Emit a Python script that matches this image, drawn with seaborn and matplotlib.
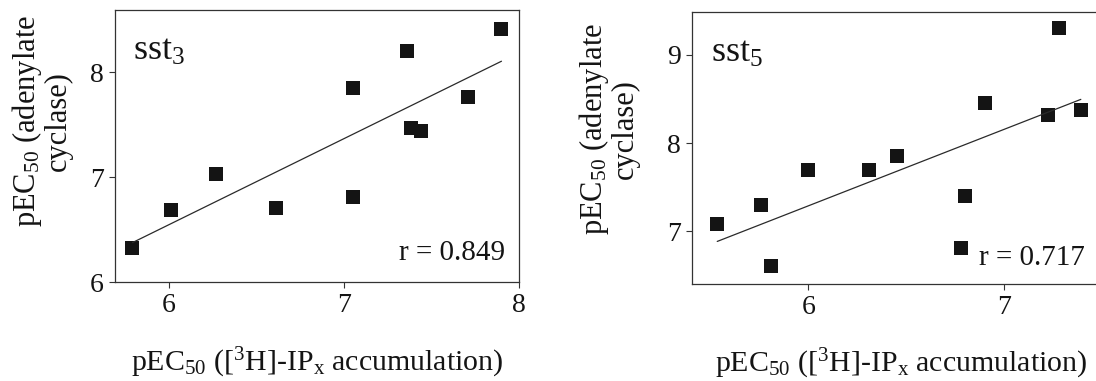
import matplotlib
matplotlib.use("Agg")
import matplotlib.pyplot as plt
import seaborn as sns
import pandas as pd

# pEC50 values: [3H]-IPx accumulation (x) vs adenylate cyclase (y)
sst3_ip = [5.79, 6.01, 6.27, 6.61, 7.05, 7.05, 7.36, 7.38, 7.44, 7.71, 7.90]
sst3_ac = [6.32, 6.69, 7.03, 6.71, 6.81, 7.85, 8.20, 7.47, 7.44, 7.77, 8.41]

sst5_ip = [5.535, 5.76, 5.81, 6.00, 6.31, 6.45, 6.80, 6.78, 6.90, 7.22, 7.28, 7.39]
sst5_ac = [7.08, 7.30, 6.61, 7.69, 7.69, 7.85, 7.40, 6.81, 8.45, 8.32, 9.31, 8.37]

receptor_labels = ["sst$_3$", "sst$_5$"]
r_values = [0.849, 0.717]
x_ticks = [[6, 7, 8], [6, 7]]
y_ticks = [[6, 7, 8], [7, 8, 9]]

sns.set_style("ticks")
plt.rcParams["font.family"] = ["Liberation Serif", "DejaVu Serif"]
plt.rcParams["mathtext.fontset"] = "custom"
plt.rcParams["mathtext.rm"] = "Liberation Serif"
plt.rcParams["mathtext.it"] = "Liberation Serif:italic"
plt.rcParams["mathtext.bf"] = "Liberation Serif:bold"

ink = "#141414"
fig = plt.figure(figsize=(10.96, 3.81), dpi=100)

# axes rectangles in figure fractions
ax_l = fig.add_axes([0.1049, 0.2598, 0.3686, 0.7152])
ax_r = fig.add_axes([0.6317, 0.2559, 0.3811, 0.7134])

panels = [
    (ax_l, sst3_ip, sst3_ac, (5.69, 8.0), (6.0, 8.6)),
    (ax_r, sst5_ip, sst5_ac, (5.408, 7.539), (6.408, 9.49)),
]

xlabel = "pEC$_{50}$ ([$^{3}$H]-IP$_{\\mathrm{x}}$ accumulation)"
ylabel = "pEC$_{50}$ (adenylate\ncyclase)"

for i, (ax, xs, ys, xl, yl) in enumerate(panels):
    df = pd.DataFrame({"ip": xs, "ac": ys})
    sns.regplot(
        data=df, x="ip", y="ac", ax=ax, ci=None, marker="s",
        scatter_kws=dict(s=105, color=ink, linewidths=0, alpha=1),
        line_kws=dict(color="#2a2a2a", lw=0.9),
    )
    ax.set_xlim(*xl)
    ax.set_ylim(*yl)
    ax.set_xticks(x_ticks[i])
    ax.set_yticks(y_ticks[i])
    for sp in ax.spines.values():
        sp.set_visible(True)
        sp.set_color("#333333")
        sp.set_linewidth(0.9)
    ax.tick_params(direction="out", length=4, width=0.8, color="#333333",
                   labelsize=20, pad=4, labelcolor=ink)
    ax.set_xlabel(xlabel, fontsize=21.5, color=ink)
    ax.xaxis.label.set_va("center")
    ax.set_ylabel(ylabel, fontsize=22, color=ink, linespacing=1.0)
    ax.text(0.044, 0.815, receptor_labels[i], transform=ax.transAxes,
            fontsize=26, color=ink, ha="left", va="baseline")

ax_l.xaxis.set_label_coords(0.5, -0.297)
ax_r.xaxis.set_label_coords(0.5, -0.296)
ax_l.yaxis.set_label_coords(-0.104, 0.59)
ax_r.yaxis.set_label_coords(-0.125, 0.568)

ax_l.text(0.965, 0.081, f"r = {r_values[0]:.3f}", transform=ax_l.transAxes,
          fontsize=21, color=ink, ha="right", va="baseline")
ax_r.text(0.940, 0.068, f"r = {r_values[1]:.3f}", transform=ax_r.transAxes,
          fontsize=21, color=ink, ha="right", va="baseline")

fig.savefig("out.png", dpi=100)
